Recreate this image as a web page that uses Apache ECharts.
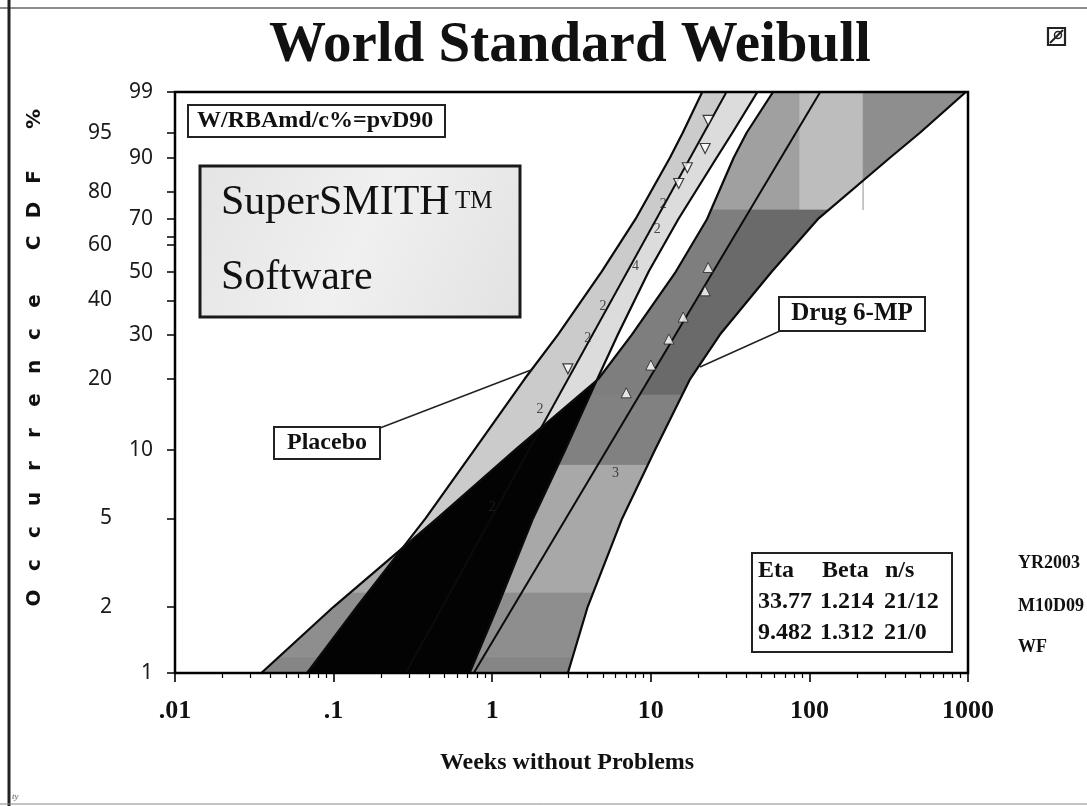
<!DOCTYPE html>
<html><head><meta charset="utf-8">
<script src="https://cdn.jsdelivr.net/npm/echarts@6/dist/echarts.min.js"></script>
<style>html,body{margin:0;padding:0;background:#fff}#c{width:1087px;height:806px}</style>
</head><body><div id="c"></div>
<script>
// ---------------- data ----------------
const levelsF = [1, 2, 5, 10, 20, 30, 50, 70, 90, 95, 99];          // Occurrence CDF %
const placeboLowerWeeks = [0.068, 0.14, 0.38, 0.77, 1.6, 2.6, 4.9, 8.0, 13.2, 15.9, 21.1];
const placeboUpperWeeks = [0.72, 1.08, 1.81, 2.88, 4.6, 6.2, 9.7, 14.9, 26, 32.7, 47];
const drugLowerWeeks    = [0.035, 0.10, 0.45, 1.39, 4.67, 7.6, 14.4, 22.6, 33.3, 40.2, 59];
const drugUpperWeeks    = [3.0, 4.0, 6.6, 10.6, 17.7, 27.3, 58, 113, 322, 498, 970];
const fitF = [1, 99];
const placeboFitWeeks = [0.285, 30];
const drugFitWeeks = [0.765, 117];

const placeboPointWeeks = [3, 15, 17, 22, 23];
const placeboPointF     = [22.0, 82.7, 87.4, 92.1, 96.7];
const placeboTieWeeks = [1, 2, 4, 5, 8, 11, 12];
const placeboTieF     = [5.6, 15.0, 29.0, 38.3, 52.0, 66.3, 75.7];
const placeboTieCount = [2, 2, 2, 2, 4, 2, 2];
const drugPointWeeks = [7, 10, 13, 16, 22, 23];
const drugPointF     = [17.55, 22.79, 28.84, 34.88, 43.2, 51.5];
const drugTieWeeks = [6];
const drugTieF     = [7.94];
const drugTieCount = [3];

const yMajorTicks = [1, 10, 30, 50, 70, 90, 99];
const yMinorTicks = [2, 5, 20, 40, 60, 80, 95];
const yExtraTicks = [63.2];
const xTickLabels = ['.01', '.1', '1', '10', '100', '1000'];

// shading blocks of the drug band: [Fmin, Fmax, weeksMin, weeksMax, side, colour]
const drugShadeCells = [
  [73.5, 99, null, 87, 'all', '#a0a0a0'],
  [73.5, 99, 87, 218, 'all', '#bdbdbd'],
  [73.5, 99, 218, null, 'all', '#8e8e8e'],
  [17.2, 73.5, null, null, 'left', '#7e7e7e'],
  [17.2, 73.5, null, null, 'right', '#6a6a6a'],
  [8.6, 17.2, null, null, 'all', '#818181'],
  [2.31, 8.6, null, null, 'all', '#a8a8a8'],
  [1.17, 2.31, null, null, 'all', '#8e8e8e'],
  [1, 1.17, null, null, 'all', '#858585']
];

// ---------------- helpers ----------------
const wb = F => Math.log(-Math.log(1 - F / 100));   // Weibull probability scale
const Y_MIN = wb(1), Y_MAX = wb(99);
const serif = '"Liberation Serif", "Times New Roman", serif';

const xMinorTicks = [];
for (let k = -2; k <= 2; k++) for (let m = 2; m <= 9; m++) xMinorTicks.push(+(m * Math.pow(10, k)).toPrecision(3));

function lerpCurve(pts) {          // pts ordered bottom -> top (y decreasing)
  const n = pts.length;
  return function (y) {
    for (let i = 0; i < n - 1; i++) {
      const a = pts[i], b = pts[i + 1];
      if (y <= a[1] && y >= b[1]) {
        const t = (b[1] === a[1]) ? 0 : (y - a[1]) / (b[1] - a[1]);
        return a[0] + t * (b[0] - a[0]);
      }
    }
    const a = y > pts[0][1] ? pts[0] : pts[n - 2];
    const b = y > pts[0][1] ? pts[1] : pts[n - 1];
    const t = (y - a[1]) / (b[1] - a[1]);
    return a[0] + t * (b[0] - a[0]);
  };
}
function region(lefts, rights, yTop, yBot) {
  const n = Math.max(2, Math.ceil(Math.abs(yBot - yTop) / 0.8));
  const L = [], R = [];
  for (let k = 0; k <= n; k++) {
    const y = yBot + (yTop - yBot) * k / n;
    let l = -Infinity, r = Infinity;
    lefts.forEach(f => { l = Math.max(l, f(y)); });
    rights.forEach(f => { r = Math.min(r, f(y)); });
    if (r < l) r = l;
    L.push([l, y]); R.push([r, y]);
  }
  return L.concat(R.reverse());
}

function renderBands(params, api) {
  const P = (wk, F) => api.coord([wk, wb(F)]);
  const curve = weeks => levelsF.map((F, i) => P(weeks[i], F));
  const pl = curve(placeboLowerWeeks), pr = curve(placeboUpperWeeks);
  const dl = curve(drugLowerWeeks), dr = curve(drugUpperWeeks);
  const pc = fitF.map((F, i) => P(placeboFitWeeks[i], F));
  const dc = fitF.map((F, i) => P(drugFitWeeks[i], F));
  const fPL = lerpCurve(pl), fPR = lerpCurve(pr), fDL = lerpCurve(dl), fDR = lerpCurve(dr);
  const fPC = lerpCurve(pc), fDC = lerpCurve(dc);
  const yOf = F => P(1, F)[1];
  const constX = x => () => x;
  const yT = yOf(99), yB = yOf(1);
  const ch = [];
  drugShadeCells.forEach(c => {
    const [F0, F1, w0, w1, side, color] = c;
    const lefts = [fDL], rights = [fDR];
    if (w0 != null) lefts.push(constX(P(w0, 50)[0]));
    if (w1 != null) rights.push(constX(P(w1, 50)[0]));
    if (side === 'left') rights.push(fDC);
    if (side === 'right') lefts.push(fDC);
    ch.push({type: 'polygon', shape: {points: region(lefts, rights, yOf(F1), yOf(F0))},
             style: {fill: color, stroke: color, lineWidth: 0.6}});
  });
  ch.push({type: 'polygon', shape: {points: region([fPL], [fPC, fPR], yT, yB)}, style: {fill: '#cbcbcb', stroke: '#cbcbcb', lineWidth: 0.6}});
  ch.push({type: 'polygon', shape: {points: region([fPL, fPC], [fPR], yT, yB)}, style: {fill: '#dcdcdc', stroke: '#dcdcdc', lineWidth: 0.6}});
  ch.push({type: 'polygon', shape: {points: region([fPL, fDL], [fPR, fDR], yT, yB)}, style: {fill: '#030303'}});
  [pl, pr, dl, dr].forEach(pts => ch.push({type: 'polyline', shape: {points: pts},
      style: {stroke: '#0b0b0b', lineWidth: 2.2, fill: null, lineJoin: 'round'}}));
  ch.push({type: 'polyline', shape: {points: pc}, style: {stroke: '#0b0b0b', lineWidth: 2, fill: null}});
  ch.push({type: 'polyline', shape: {points: dc}, style: {stroke: '#0b0b0b', lineWidth: 2, fill: null}});
  return {type: 'group', children: ch};
}

const labelFor = list => v => {
  for (const F of list) if (Math.abs(wb(F) - v) < 1e-6) return String(F);
  return '';
};

// ---------------- graphic annotations ----------------
const txt = (x, y, text, size, opt) => Object.assign({
  type: 'text', x: x, y: y, silent: true,
  style: Object.assign({text: text, fill: '#111', font: 'bold ' + size + 'px ' + serif,
    align: 'left', verticalAlign: 'middle'}, (opt && opt.style) || {})
}, (opt && opt.el) || {});

const yTitleLetters = [['O', 598], ['c', 565], ['c', 532], ['u', 499], ['r', 466], ['r', 433], ['e', 400],
  ['n', 367], ['c', 334], ['e', 301], ['C', 243], ['D', 210], ['F', 177], ['%', 119]];

const graphics = [
  // page frame
  {type: 'line', shape: {x1: 0, y1: 8, x2: 1087, y2: 8}, style: {stroke: '#666', lineWidth: 1.5}, silent: true},
  {type: 'line', shape: {x1: 9, y1: 0, x2: 9, y2: 806}, style: {stroke: '#222', lineWidth: 3}, silent: true},
  {type: 'line', shape: {x1: 0, y1: 804, x2: 1087, y2: 804}, style: {stroke: '#888', lineWidth: 1}, silent: true},
  // plot frame
  {type: 'rect', shape: {x: 175, y: 92, width: 793, height: 581}, style: {fill: null, stroke: '#000', lineWidth: 2.5}, z: 50, silent: true},
  // title
  txt(570, 46, 'World Standard Weibull', 57, {style: {align: 'center'}}),
  // icon
  {type: 'rect', shape: {x: 1048, y: 28, width: 17, height: 17}, style: {fill: '#fff', stroke: '#222', lineWidth: 2.2}, silent: true},
  {type: 'line', shape: {x1: 1050, y1: 43, x2: 1063, y2: 30}, style: {stroke: '#222', lineWidth: 2}, silent: true},
  {type: 'circle', shape: {cx: 1058, cy: 35, r: 3.5}, style: {fill: null, stroke: '#222', lineWidth: 1.5}, silent: true},
  // W/RB box
  {type: 'rect', shape: {x: 188, y: 105, width: 257, height: 32}, style: {fill: '#fff', stroke: '#222', lineWidth: 2}, z: 60, silent: true},
  txt(197, 121, 'W/RBAmd/c%=pvD90', 24, {el: {z: 61}}),
  // SuperSMITH box
  {type: 'rect', shape: {x: 200, y: 166, width: 320, height: 151},
   style: {fill: new echarts.graphic.LinearGradient(0, 0, 1, 1, [{offset: 0, color: '#e4e4e4'}, {offset: 0.5, color: '#f0f0f0'}, {offset: 1, color: '#e2e2e2'}]),
           stroke: '#1a1a1a', lineWidth: 3}, z: 60, silent: true},
  txt(221, 203, 'SuperSMITH', 42, {style: {font: '42px ' + serif}, el: {z: 61}}),
  txt(455, 189, 'TM', 25, {style: {font: '25px ' + serif, verticalAlign: 'top'}, el: {z: 61}}),
  txt(221, 278, 'Software', 42, {style: {font: '42px ' + serif}, el: {z: 61}}),
  // Placebo label
  {type: 'line', shape: {x1: 380, y1: 428, x2: 531, y2: 370}, style: {stroke: '#222', lineWidth: 1.5}, z: 59, silent: true},
  {type: 'rect', shape: {x: 274, y: 427, width: 106, height: 32}, style: {fill: '#fff', stroke: '#222', lineWidth: 2}, z: 60, silent: true},
  txt(327, 443, 'Placebo', 24, {style: {align: 'center'}, el: {z: 61}}),
  // Drug label
  {type: 'line', shape: {x1: 780, y1: 331, x2: 700, y2: 367}, style: {stroke: '#222', lineWidth: 1.5}, z: 59, silent: true},
  {type: 'rect', shape: {x: 779, y: 297, width: 146, height: 34}, style: {fill: '#fff', stroke: '#222', lineWidth: 2}, z: 60, silent: true},
  txt(852, 314, 'Drug 6-MP', 25, {style: {align: 'center'}, el: {z: 61}}),
  // parameter box
  {type: 'rect', shape: {x: 752, y: 553, width: 200, height: 99}, style: {fill: '#fff', stroke: '#222', lineWidth: 2}, z: 60, silent: true},
  txt(758, 571, 'Eta', 24, {el: {z: 61}}), txt(822, 571, 'Beta', 24, {el: {z: 61}}), txt(885, 571, 'n/s', 24, {el: {z: 61}}),
  txt(758, 602, '33.77', 24, {el: {z: 61}}), txt(820, 602, '1.214', 24, {el: {z: 61}}), txt(884, 602, '21/12', 24, {el: {z: 61}}),
  txt(758, 633, '9.482', 24, {el: {z: 61}}), txt(820, 633, '1.312', 24, {el: {z: 61}}), txt(884, 633, '21/0', 24, {el: {z: 61}}),
  // side stamps
  txt(1018, 563, 'YR2003', 18), txt(1018, 606, 'M10D09', 18), txt(1018, 647, 'WF', 18),
  // x axis name
  txt(567, 763, 'Weeks without Problems', 24, {style: {align: 'center'}}),
  txt(12, 797, 'ty', 9, {style: {font: 'italic 9px ' + serif, fill: '#555'}})
];
yTitleLetters.forEach(([ch, y]) => graphics.push({
  type: 'text', x: 35, y: y, rotation: Math.PI / 2, silent: true,
  style: {text: ch, font: 'bold 20px "DejaVu Sans", sans-serif', fill: '#111', align: 'center', verticalAlign: 'middle'}
}));

// ---------------- chart ----------------
const chart = echarts.init(document.getElementById('c'));
const axisFont = {fontFamily: '"Noto Sans", sans-serif', fontSize: 21, color: '#1a1a1a'};
chart.setOption({
  animation: false,
  backgroundColor: '#fff',
  grid: {left: 175, right: 119, top: 92, bottom: 133, show: false},
  xAxis: [
    {type: 'log', logBase: 10, min: 0.01, max: 1000, position: 'bottom', z: 10,
     axisLine: {show: true, onZero: false, lineStyle: {color: '#000', width: 2}},
     axisTick: {show: true, inside: false, length: 9, lineStyle: {color: '#000', width: 1.6}},
     axisLabel: {formatter: v => xTickLabels[Math.round(Math.log10(v)) + 2], fontFamily: serif, fontWeight: 'bold',
                 fontSize: 26, color: '#111', margin: 25},
     splitLine: {show: false}},
    {type: 'log', logBase: 10, min: 0.01, max: 1000, position: 'bottom', z: 10,
     axisLine: {show: false, onZero: false},
     axisTick: {show: true, inside: false, length: 5, customValues: xMinorTicks, lineStyle: {color: '#000', width: 1.2}},
     axisLabel: {show: false}, splitLine: {show: false}}
  ],
  yAxis: [
    {type: 'value', min: Y_MIN, max: Y_MAX, position: 'left', z: 10,
     axisLine: {show: true, onZero: false, lineStyle: {color: '#000', width: 2}},
     axisTick: {show: true, length: 8, customValues: yMajorTicks.map(wb), lineStyle: {color: '#000', width: 1.5}},
     axisLabel: Object.assign({customValues: yMajorTicks.map(wb), formatter: labelFor(yMajorTicks), margin: 22}, axisFont),
     splitLine: {show: false}},
    {type: 'value', min: Y_MIN, max: Y_MAX, position: 'left', z: 10,
     axisLine: {show: false, onZero: false},
     axisTick: {show: true, length: 8, customValues: yMinorTicks.concat(yExtraTicks).map(wb), lineStyle: {color: '#000', width: 1.5}},
     axisLabel: Object.assign({customValues: yMinorTicks.map(wb), formatter: labelFor(yMinorTicks), margin: 63}, axisFont),
     splitLine: {show: false}}
  ],
  series: [
    {type: 'custom', renderItem: renderBands, data: [[1, 0]], clip: true, z: 2, silent: true},
    {type: 'scatter', name: 'Placebo', z: 4, silent: true,
     data: placeboPointWeeks.map((t, i) => [t, wb(placeboPointF[i])]),
     symbol: 'triangle', symbolRotate: 180, symbolSize: 10,
     itemStyle: {color: '#fff', borderColor: '#111', borderWidth: 1.2}},
    {type: 'scatter', name: 'Placebo ties', z: 5, silent: true,
     data: placeboTieWeeks.map((t, i) => [t, wb(placeboTieF[i])]),
     symbolSize: 1, itemStyle: {color: 'rgba(0,0,0,0)'},
     label: {show: true, position: 'inside', formatter: p => String(placeboTieCount[p.dataIndex]),
             fontFamily: serif, fontSize: 14, color: '#222'}},
    {type: 'scatter', name: 'Drug 6-MP', z: 4, silent: true,
     data: drugPointWeeks.map((t, i) => [t, wb(drugPointF[i])]),
     symbol: 'triangle', symbolSize: 10,
     itemStyle: {color: '#fff', borderColor: '#222', borderWidth: 1}},
    {type: 'scatter', name: 'Drug ties', z: 5, silent: true,
     data: drugTieWeeks.map((t, i) => [t, wb(drugTieF[i])]),
     symbolSize: 1, itemStyle: {color: 'rgba(0,0,0,0)'},
     label: {show: true, position: 'inside', formatter: p => String(drugTieCount[p.dataIndex]),
             fontFamily: serif, fontSize: 14, color: '#222'}}
  ],
  graphic: graphics
});
</script>
</body></html>
